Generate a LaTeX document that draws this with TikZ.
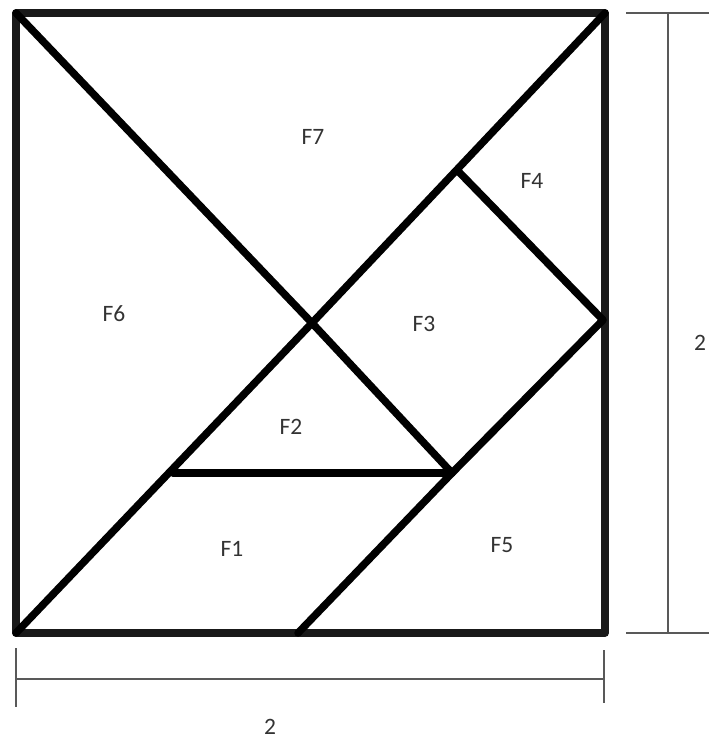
\documentclass[tikz,border=0pt]{standalone}
\usepackage{fontspec}
\setmainfont{Carlito}
\begin{document}
\begin{tikzpicture}[x=1pt,y=-1pt,
	piece/.style={line width=7.5pt,line cap=round,line join=round},
	dim/.style={line width=1.6pt,draw=black!65},
	lbl/.style={font=\fontsize{23.5}{26}\selectfont,text=black!80}]
		\useasboundingbox (0,0) rectangle (709,742);
		% corners and cut points
		\coordinate (tl) at (16,13);
		\coordinate (tr) at (605,13);
		\coordinate (br) at (605,633);
		\coordinate (bl) at (16,633);
		\coordinate (c) at (312,323);
		\coordinate (p) at (458,171);
		\coordinate (r) at (603,320);
		\coordinate (q) at (452,473);
		\coordinate (h) at (173,473);
		\coordinate (b) at (298,633);
		\draw[piece,draw=black!90] (tl) -- (tr) -- (br) -- (bl) -- cycle;
		\draw[piece] (tl) -- (c) -- (q);
		\draw[piece] (bl) -- (c) -- (tr);
		\draw[piece] (p) -- (r) -- (q) -- (b);
		\draw[piece] (h) -- (q);
		% labels
		\node[lbl](f7) at (313,137) {F7};
		\node[lbl](f6) at (114,314) {F6};
		\node[lbl](f4) at (532,181) {F4};
		\node[lbl](f3) at (424,324) {F3};
		\node[lbl](f2) at (291,427) {F2};
		\node[lbl](f1) at (232,549) {F1};
		\node[lbl](f5) at (502,545) {F5};
		% dimensions
		\coordinate (v1) at (668,13);
		\coordinate (v2) at (668,633);
		\coordinate (w1) at (16,679);
		\coordinate (w2) at (604,679);
		\draw[dim] (v1) -- (v2);
		\draw[dim] (626,13) -- (709,13);
		\draw[dim] (626,633) -- (709,633);
		\draw[dim] (w1) -- (w2);
		\draw[dim] (16,648) -- (16,707);
		\draw[dim] (604,650) -- (604,703);
		\node[lbl](dv) at (700,343) {2};
		\node[lbl](dh) at (270,727) {2};
\end{tikzpicture}
\end{document}
